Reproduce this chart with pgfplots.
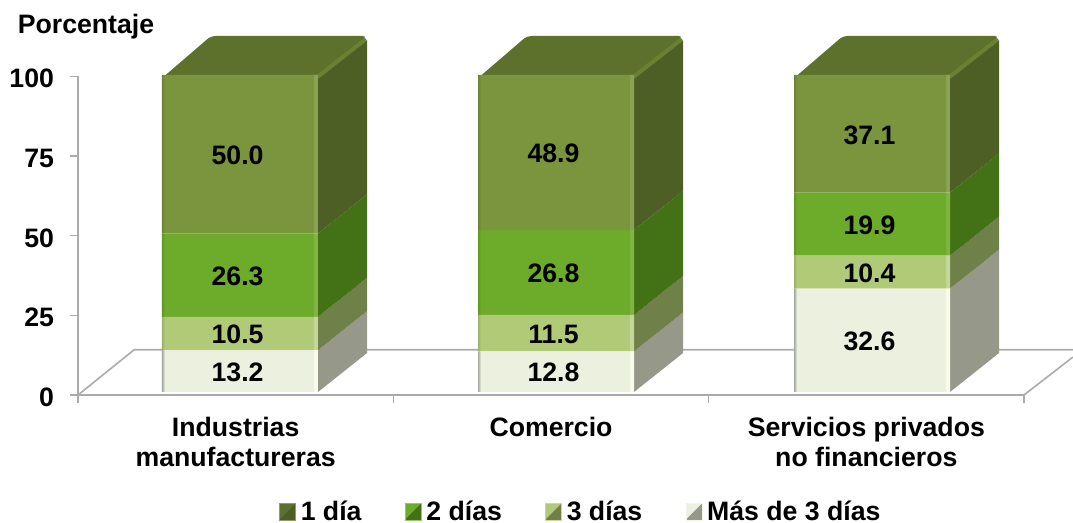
\documentclass[border=0pt]{standalone}
\usepackage{fontspec}
\setmainfont{Liberation Sans}
\usepackage{pgfplots}
\pgfplotsset{compat=1.18}
\usepackage{pgfplotstable}
\definecolor{fa}{HTML}{7A953D}\definecolor{sa}{HTML}{4E5F26}\definecolor{ta}{HTML}{5E712C}\definecolor{ha}{HTML}{6A8132}
\definecolor{fb}{HTML}{6DAB2A}\definecolor{sb}{HTML}{437216}
\definecolor{fc}{HTML}{B0CA78}\definecolor{sc}{HTML}{6F8048}
\definecolor{fd}{HTML}{EBF0DF}\definecolor{sd}{HTML}{96998A}
\definecolor{ld}{HTML}{F9FCE8}
\definecolor{axg}{HTML}{ABABAB}
\newcommand{\mkshade}[4]{\pgfdeclarehorizontalshading{#1}{100bp}{color(0bp)=(#3);color(25bp)=(#3);color(25.19bp)=(#2);color(34.58bp)=(#2);color(34.65bp)=(#4);color(34.9bp)=(#4);color(45.05bp)=(#3);color(45.24bp)=(#2);color(54.63bp)=(#2);color(54.7bp)=(#4);color(54.95bp)=(#4);color(65.1bp)=(#3);color(65.29bp)=(#2);color(74.68bp)=(#2);color(74.75bp)=(#4);color(75bp)=(#4);color(100bp)=(#4)}}
\mkshade{sha}{fa}{fa!88!black}{fa!88!white}
\mkshade{shb}{fb}{fb!88!black}{fb!88!white}
\mkshade{shc}{fc}{fc!88!black}{fc!75!white}
\mkshade{shd}{fd}{fd!70!black}{ld}
\newcommand{\lab}{\bfseries\fontsize{20}{22.5}\selectfont}
\newcommand{\legimg}[2]{\addlegendimage{legend image code/.code={
  \fill[#1] (0,-6pt) rectangle (12pt,6pt);
  \fill[#2] (12pt,-6pt) -- (12pt,6pt) -- (0,-6pt) -- cycle;
  \draw[#1!70!white,line width=0.6pt] (0,-6pt) rectangle (12pt,6pt);
}}}
\pgfplotstableread{
x v4 v3 v2 v1
0.0137 13.2 10.5 26.3 50.0
1.0159 12.8 11.5 26.8 48.9
2.0180 32.6 10.4 19.9 37.1
}\barsdata
\begin{document}
\begin{tikzpicture}
\path[use as bounding box] (0pt,0pt) rectangle (804.75pt,392.25pt);
\node[anchor=center,font=\lab] at (64.5pt,372pt) {Porcentaje};
% frame: axes, floor, ticks, category names, legend
\begin{axis}[
  at={(58.5pt,96pt)},anchor=south west,scale only axis,width=709.5pt,height=238.9pt,
  clip=false,xmin=-0.5,xmax=2.5,ymin=0,ymax=100,
  axis x line*=bottom,axis y line*=left,axis line style={-,axg,line width=1.2pt},
  tick align=outside,
  xtick={0,1,2},xticklabels={{Industrias\\manufactureras},{Comercio},{Servicios privados\\no financieros}},
  minor xtick={-0.5,0.5,1.5,2.5},
  major x tick style={draw=none},minor x tick style={axg,line width=0.9pt},
  minor tick length=6pt,major tick length=6pt,
  ytick={0,25,50,75,100},y tick style={axg,line width=0.9pt},
  yticklabel style={font=\lab,/pgf/number format/assume math mode=true,xshift=-8.5pt,yshift=-1.7pt},
  xticklabel style={font=\lab,align=center,yshift=-7pt},
  legend style={draw=none,fill=none,at={(0.532,-0.367)},anchor=center,legend columns=-1,font=\lab,
    nodes={inner ysep=0pt},
    /tikz/every even column/.append style={column sep=30.5pt},
    /tikz/every odd column/.append style={column sep=1.5pt}},
]
\addplot[forget plot,axg,line width=1.2pt] coordinates {(-0.5,0) (-0.322,14.2) (2.655,14.2)};
\addplot[forget plot,axg,line width=1.2pt] coordinates {(2.5,0) (2.655,11.9)};
\legimg{ta}{sa}\addlegendentry{1 día}
\legimg{fb}{sb}\addlegendentry{2 días}
\legimg{fc}{sc}\addlegendentry{3 días}
\legimg{fd}{sd}\addlegendentry{Más de 3 días}
\end{axis}
% side and top faces
\begin{axis}[
  at={(58.5pt,98.25pt)},anchor=south west,scale only axis,width=709.5pt,height=237.75pt,
  clip=false,xmin=-0.5,xmax=2.5,ymin=0,ymax=100,axis lines=none]
\addplot[fill=ta,draw=none,rounded corners=3pt] coordinates {(-0.2337,99) (0.2611,99) (0.4165,112.3) (-0.0783,112.3)} --cycle;
\addplot[fill=ta,draw=none,rounded corners=3pt] coordinates {(0.7685,99) (1.2633,99) (1.4187,112.3) (0.9239,112.3)} --cycle;
\addplot[fill=ta,draw=none,rounded corners=3pt] coordinates {(1.7706,99) (2.2654,99) (2.4208,112.3) (1.926,112.3)} --cycle;
\addplot[fill=sd,draw=none] coordinates {(0.2611,0) (0.4165,12.3) (0.4165,25.5) (0.2611,13.2)} --cycle;
\addplot[fill=sc,draw=none] coordinates {(0.2611,13.2) (0.4165,25.5) (0.4165,36.0) (0.2611,23.7)} --cycle;
\addplot[fill=sb,draw=none] coordinates {(0.2611,23.7) (0.4165,36.0) (0.4165,62.3) (0.2611,50.0)} --cycle;
\addplot[fill=sa,draw=none] coordinates {(0.2611,50.0) (0.4165,62.3) (0.4165,111) (0.2611,99)} --cycle;
\addplot[fill=sd,draw=none] coordinates {(1.2633,0) (1.4187,12.3) (1.4187,25.1) (1.2633,12.8)} --cycle;
\addplot[fill=sc,draw=none] coordinates {(1.2633,12.8) (1.4187,25.1) (1.4187,36.6) (1.2633,24.3)} --cycle;
\addplot[fill=sb,draw=none] coordinates {(1.2633,24.3) (1.4187,36.6) (1.4187,63.4) (1.2633,51.1)} --cycle;
\addplot[fill=sa,draw=none] coordinates {(1.2633,51.1) (1.4187,63.4) (1.4187,111) (1.2633,99)} --cycle;
\addplot[fill=sd,draw=none] coordinates {(2.2654,0) (2.4208,12.3) (2.4208,44.9) (2.2654,32.6)} --cycle;
\addplot[fill=sc,draw=none] coordinates {(2.2654,32.6) (2.4208,44.9) (2.4208,55.3) (2.2654,43.0)} --cycle;
\addplot[fill=sb,draw=none] coordinates {(2.2654,43.0) (2.4208,55.3) (2.4208,75.2) (2.2654,62.9)} --cycle;
\addplot[fill=sa,draw=none] coordinates {(2.2654,62.9) (2.4208,75.2) (2.4208,111) (2.2654,99)} --cycle;
\addplot[ha,line width=3pt,line cap=round] coordinates {(0.2611,99.5) (0.4085,111)};
\addplot[ha,line width=3pt,line cap=round] coordinates {(1.2633,99.5) (1.4107,111)};
\addplot[ha,line width=3pt,line cap=round] coordinates {(2.2654,99.5) (2.4128,111)};
\end{axis}
% front faces
\begin{axis}[
  at={(58.5pt,98.25pt)},anchor=south west,scale only axis,width=709.5pt,height=237.75pt,
  clip=false,xmin=-0.5,xmax=2.5,ymin=0,ymax=100,axis lines=none,
  ybar stacked,bar width=117pt]
\addplot[draw=none,shade,shading=shd] table[x=x,y=v4] {\barsdata};
\addplot[draw=none,shade,shading=shc] table[x=x,y=v3] {\barsdata};
\addplot[draw=none,shade,shading=shb] table[x=x,y=v2] {\barsdata};
\addplot[draw=none,shade,shading=sha] table[x=x,y=v1] {\barsdata};
\end{axis}
% value labels
\begin{axis}[
  at={(58.5pt,98.25pt)},anchor=south west,scale only axis,width=709.5pt,height=237.75pt,
  clip=false,xmin=-0.5,xmax=2.5,ymin=0,ymax=100,axis lines=none]
\addplot[only marks,mark=none,point meta=explicit symbolic,nodes near coords,
  every node near coord/.style={anchor=center,font=\lab,text=black,yshift=-0.8pt}]
 table[x=x,y=y,meta=t] {
x y t
0.0060 6.6 13.2
0.0060 18.45 10.5
0.0060 36.85 26.3
0.0060 75.0 50.0
1.0080 6.4 12.8
1.0080 18.55 11.5
1.0080 37.7 26.8
1.0080 75.55 48.9
2.0100 16.3 32.6
2.0100 37.8 10.4
2.0100 52.95 19.9
2.0100 81.45 37.1
};
\end{axis}
\end{tikzpicture}
\end{document}
